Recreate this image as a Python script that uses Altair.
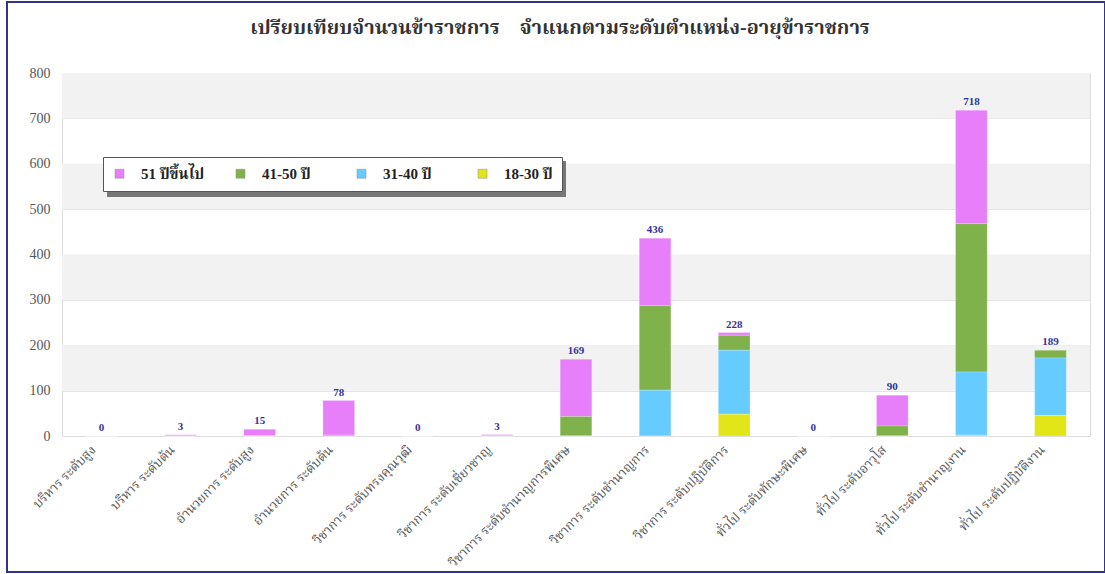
import altair as alt
import pandas as pd

categories = [
    "บริหาร ระดับสูง",
    "บริหาร ระดับต้น",
    "อำนวยการ ระดับสูง",
    "อำนวยการ ระดับต้น",
    "วิชาการ ระดับทรงคุณวุฒิ",
    "วิชาการ ระดับเชี่ยวชาญ",
    "วิชาการ ระดับชำนาญการพิเศษ",
    "วิชาการ ระดับชำนาญการ",
    "วิชาการ ระดับปฏิบัติการ",
    "ทั่วไป ระดับทักษะพิเศษ",
    "ทั่วไป ระดับอาวุโส",
    "ทั่วไป ระดับชำนาญงาน",
    "ทั่วไป ระดับปฏิบัติงาน",
]
series_names = ["51 ปีขึ้นไป", "41-50 ปี", "31-40 ปี", "18-30 ปี"]
series_colors = ["#e67ff9", "#7fb24a", "#66ccff", "#e2e619"]
age_51_up = [0, 3, 15, 76, 0, 3, 126, 149, 6, 0, 68, 250, 0]
age_41_50 = [0, 0, 0, 2, 0, 0, 43, 186, 33, 0, 22, 327, 17]
age_31_40 = [0, 0, 0, 0, 0, 0, 0, 101, 141, 0, 0, 139, 127]
age_18_30 = [0, 0, 0, 0, 0, 0, 0, 0, 48, 0, 0, 2, 45]
band_low = [100, 300, 500, 700]
band_high = [200, 400, 600, 800]
y_ticks = [0, 100, 200, 300, 400, 500, 600, 700, 800]
title_text = ["เปรียบเทียบจำนวนข้าราชการ\u00a0\u00a0\u00a0\u00a0จำแนกตามระดับตำแหน่ง-อายุข้าราชการ"]

W, H = 1028, 363
thai_font = "Liberation Serif, Noto Serif Thai, Noto Sans Thai, DejaVu Serif, serif"

series_values = [age_51_up, age_41_50, age_31_40, age_18_30]
rows = []
for si, (name, vals) in enumerate(zip(series_names, series_values)):
    for c, v in zip(categories, vals):
        rows.append({"cat": c, "series": name, "value": v, "ord": 3 - si})
df = pd.DataFrame(rows)
totals = pd.DataFrame({
    "cat": categories,
    "total": [sum(s[i] for s in series_values) for i in range(len(categories))],
})
bands = pd.DataFrame({"lo": band_low, "hi": band_high})
one = pd.DataFrame({"k": [0]})
title_df = pd.DataFrame({"t": title_text})

x_enc = alt.X("cat:N", sort=categories, title=None,
              scale=alt.Scale(paddingInner=0.6, paddingOuter=0.3),
              axis=alt.Axis(labelAngle=-45, labelFontSize=13, labelColor="#555555",
                            labelFont=thai_font, ticks=False, domainColor="#dddddd",
                            labelPadding=7, labelOffset=-12, labelLimit=300))
y_scale = alt.Scale(domain=[0, 800], nice=False)

band_layer = alt.Chart(bands).mark_rect(color="#f2f2f2").encode(
    x=alt.value(0), x2=alt.value(W),
    y=alt.Y("lo:Q", scale=y_scale, title=None,
            axis=alt.Axis(values=y_ticks, grid=True, gridColor="#e4e4e4", ticks=False,
                          domain=False, labelColor="#555555", labelFontSize=14,
                          labelFont="Liberation Serif", labelPadding=12)),
    y2="hi:Q",
)

bars = alt.Chart(df).mark_bar(stroke="white", strokeOpacity=0.4, strokeWidth=0.5).encode(
    x=x_enc,
    y=alt.Y("value:Q", stack="zero", scale=y_scale),
    color=alt.Color("series:N",
                    scale=alt.Scale(domain=series_names, range=series_colors),
                    legend=alt.Legend(title=None, orient="none", legendX=41, legendY=84,
                                      direction="horizontal", symbolType="square",
                                      symbolSize=80, symbolStrokeColor="#888888",
                                      symbolStrokeWidth=0.5,
                                      labelFont=thai_font, labelFontSize=15,
                                      labelFontWeight="bold",
                                      labelColor="#222222", fillColor="white",
                                      strokeColor="#555555", padding=9,
                                      gridAlign="all", columnPadding=28,
                                      labelOffset=14)),
    order=alt.Order("ord:Q", sort="ascending"),
)

labels = alt.Chart(totals).mark_text(dy=-8, fontSize=11, fontWeight="bold",
                                     color="#333399", font="Liberation Serif").encode(
    x=alt.X("cat:N", sort=categories),
    y=alt.Y("total:Q", scale=y_scale),
    text="total:Q",
)

shadow = alt.Chart(one).mark_rect(color="#777777").encode(
    x=alt.value(45), x2=alt.value(504), y=alt.value(88), y2=alt.value(124),
)

frame = alt.Chart(one).mark_rect(fillOpacity=0, stroke="#333388", strokeWidth=2).encode(
    x=alt.value(-55), x2=alt.value(1043), y=alt.value(-71), y2=alt.value(499),
)

title = alt.Chart(title_df).mark_text(font=thai_font, fontSize=20, fontWeight="bold",
                                      color="#333333", align="center",
                                      baseline="middle").encode(
    x=alt.value(498), y=alt.value(-45), text="t:N",
)

chart = alt.layer(band_layer, shadow, bars, labels, frame, title).properties(
    width=W, height=H,
    autosize=alt.AutoSizeParams(type="none"),
    padding={"left": 62, "top": 73, "right": 15, "bottom": 138},
).configure_view(stroke="#e0e0e0").configure(background="white")

chart.save("out.html", embed_options={"renderer": "svg", "actions": False})
